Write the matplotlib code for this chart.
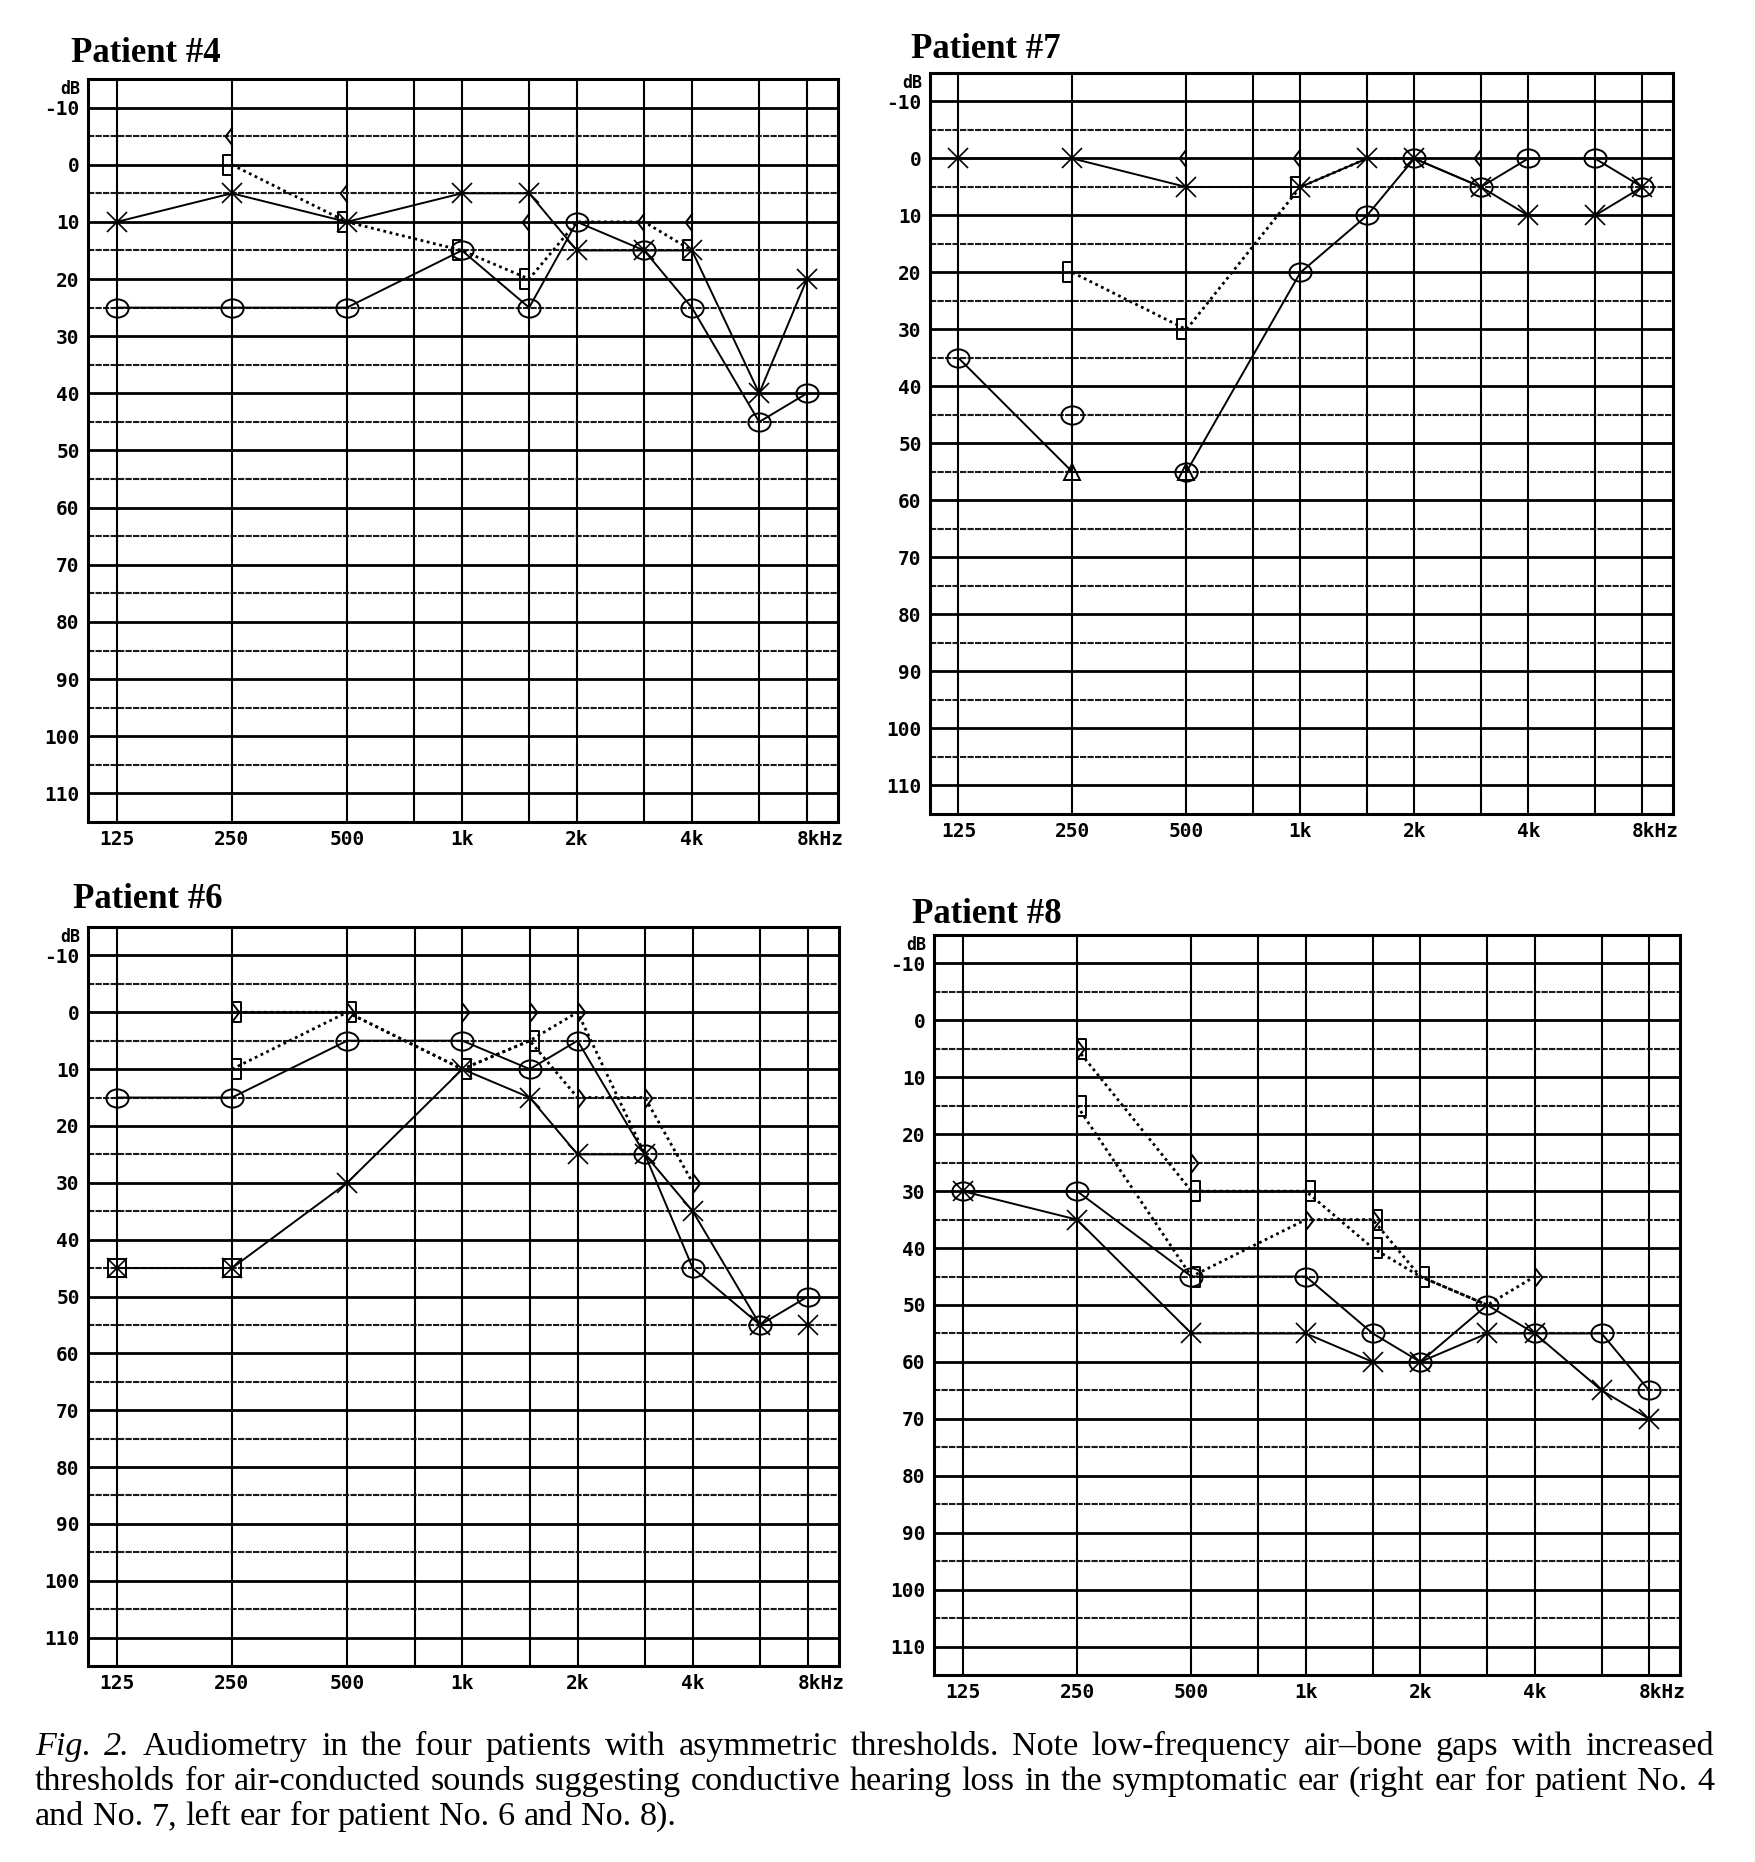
import numpy as np
import matplotlib
matplotlib.use('Agg')
import matplotlib.pyplot as plt
from matplotlib.path import Path
from matplotlib.ticker import NullLocator
from matplotlib.transforms import ScaledTranslation, blended_transform_factory

nan = np.nan

# test frequencies (Hz) and the vertical grid lines of the audiogram form
test_f = [125, 250, 500, 1000, 1500, 2000, 3000, 4000, 6000, 8000]
grid_f = [125, 250, 500, 750, 1000, 1500, 2000, 3000, 4000, 6000, 8000]
label_f = [125, 250, 500, 1000, 2000, 4000]
label_txt = ['125', '250', '500', '1k', '2k', '4k']
db_ticks = list(range(-10, 111, 10))

# Patient 4
p4_right_air = [25, 25, 25, 15, 25, 10, 15, 25, 45, 40]
p4_left_air = [10, 5, 10, 5, 5, 15, 15, 15, 40, 20]
p4_bone = [nan, 0, 10, 15, 20, 10, 10, 15, nan, nan]
p4_bracket_f = [250, 500, 1000, 1500, 4000]
p4_bracket_db = [0, 10, 15, 20, 15]
p4_angle_f = [250, 500, 1500, 3000, 4000]
p4_angle_db = [-5, 5, 10, 10, 10]

# Patient 7
p7_right_air = [35, 55, 55, 20, 10, 0, 5, 0, 0, 5]
p7_right_circles = [35, 45, 55, 20, 10, 0, 5, 0, 0, 5]
p7_triangle_f = [250, 500]
p7_triangle_db = [55, 55]
p7_left_air = [0, 0, 5, 5, 0, 0, 5, 10, 10, 5]
p7_bone = [nan, 20, 30, 5, 0, 0, nan, nan, nan, nan]
p7_bracket_f = [250, 500, 1000]
p7_bracket_db = [20, 30, 5]
p7_angle_f = [500, 1000, 3000]
p7_angle_db = [0, 0, 0]

# Patient 6
p6_right_air = [15, 15, 5, 5, 10, 5, 25, 45, 55, 50]
p6_left_air = [45, 45, 30, 10, 15, 25, 25, 35, 55, 55]
p6_bone_a = [nan, 10, 0, 10, 5, 15, 15, 30, nan, nan]
p6_bone_b = [nan, 0, 0, 10, 5, 0, 25, nan, nan, nan]
p6_bracket_f = [250, 250, 500, 1000, 1500]
p6_bracket_db = [10, 0, 0, 10, 5]
p6_angle_f = [250, 500, 1000, 1500, 2000, 2000, 3000, 4000]
p6_angle_db = [0, 0, 0, 0, 0, 15, 15, 30]
p6_box_f = [125, 250]
p6_box_db = [45, 45]

# Patient 8
p8_right_air = [30, 30, 45, 45, 55, 60, 50, 55, 55, 65]
p8_left_air = [30, 35, 55, 55, 60, 60, 55, 55, 65, 70]
p8_bone_a = [nan, 5, 30, 30, 40, 45, 50, nan, nan, nan]
p8_bone_b = [nan, 15, 45, 35, 35, 45, 50, 45, nan, nan]
p8_bracket_f = [250, 250, 500, 500, 1000, 1500, 1500, 2000]
p8_bracket_db = [5, 15, 30, 45, 30, 35, 40, 45]
p8_angle_f = [250, 500, 1000, 1500, 4000]
p8_angle_db = [5, 25, 35, 35, 45]

caption = [
    'Fig. 2. Audiometry in the four patients with asymmetric thresholds. Note low-frequency air\u2013bone gaps with increased',
    'thresholds for air-conducted sounds suggesting conductive hearing loss in the symptomatic ear (right ear for patient No. 4',
    'and No. 7, left ear for patient No. 6 and No. 8).',
]

# audiogram symbols
circ = Path.unit_circle()
OVAL = Path(circ.vertices * [1.0, 0.82], circ.codes)
LBR = Path([(0, -0.5), (-0.45, -0.5), (-0.45, 0.5), (0, 0.5)])
RBR = Path([(0, -0.5), (0.45, -0.5), (0.45, 0.5), (0, 0.5)])
LANG = Path([(0, 0.5), (-0.38, 0), (0, -0.5)])
RANG = Path([(0, 0.5), (0.38, 0), (0, -0.5)])

W, H = 1756, 1862
fig = plt.figure(figsize=(W / 100, H / 100), dpi=100)
mono = 'DejaVu Sans Mono'


def panel(box, title, title_xy, right_line, right_marks, left_line, dotted, extra):
    l, t, r, b = box
    ax = fig.add_axes([l / W, 1 - b / H, (r - l) / W, (b - t) / H])
    ax.set_xscale('log', base=2)
    ax.set_xlim(125 * 2 ** -0.25, 8000 * 2 ** 0.27)
    ax.set_ylim(115, -15)

    for f in grid_f:
        ax.axvline(f, color='k', lw=1.5, zorder=1)
    for d in range(-10, 115, 5):
        if d % 10 == 0:
            ax.axhline(d, color='k', lw=2.0, zorder=1)
        else:
            ax.axhline(d, color='#1a1a1a', lw=1.5, ls=(0, (3, 0.6)), zorder=1)
    for s in ax.spines.values():
        s.set_linewidth(2.2)

    for vals in dotted:
        ax.plot(test_f, vals, color='k', lw=2.0, ls=(0, (1, 1.3)), zorder=2)
    ax.plot(test_f, right_line, color='k', lw=1.4, zorder=3)
    ax.plot(test_f, left_line, color='k', lw=1.4, zorder=3)
    ax.plot(test_f, right_marks, ls='none', marker=OVAL, ms=16, mfc='none',
            mec='k', mew=1.4, zorder=4)
    ax.plot(test_f, left_line, ls='none', marker='x', ms=15, mec='k', mew=1.2, zorder=4)
    for mk, fs, ds, ms in extra:
        ax.plot(fs, ds, ls='none', marker=mk, ms=ms, mfc='none', mec='k',
                mew=1.4, zorder=4)

    ax.xaxis.set_minor_locator(NullLocator())
    ax.set_xticks(label_f)
    ax.set_xticklabels(label_txt)
    ax.set_yticks(db_ticks)
    ax.set_yticklabels([str(v) for v in db_ticks])
    ax.tick_params(which='both', length=0, labelsize=14, pad=6)
    for lab in ax.get_xticklabels() + ax.get_yticklabels():
        lab.set_fontfamily(mono)
        lab.set_fontweight('bold')

    xt = ax.get_xaxis_transform() + ScaledTranslation(-0.10, -6 / 72, fig.dpi_scale_trans)
    ax.text(8000, 0, '8kHz', transform=xt, ha='left', va='top',
            fontsize=14, family=mono, weight='bold')
    yt = blended_transform_factory(ax.transAxes, ax.transData) + \
        ScaledTranslation(-8 / 100, 0, fig.dpi_scale_trans)
    ax.text(0, -13.2, 'dB', transform=yt, ha='right', va='center',
            fontsize=12, family=mono, weight='bold')

    fig.text(title_xy[0] / W, 1 - title_xy[1] / H, title, family='Liberation Serif',
             weight='bold', fontsize=25, ha='left', va='baseline')
    return ax


panel((88, 79, 838, 822), 'Patient #4', (71, 62),
      p4_right_air, p4_right_air, p4_left_air, [p4_bone],
      [(LBR, p4_bracket_f, p4_bracket_db, 15), (LANG, p4_angle_f, p4_angle_db, 13)])

panel((930, 73, 1673, 814), 'Patient #7', (911, 58),
      p7_right_air, p7_right_circles, p7_left_air, [p7_bone],
      [(LBR, p7_bracket_f, p7_bracket_db, 15), (LANG, p7_angle_f, p7_angle_db, 13),
       ('^', p7_triangle_f, p7_triangle_db, 12)])

panel((88, 927, 839, 1666), 'Patient #6', (73, 908),
      p6_right_air, p6_right_air, p6_left_air, [p6_bone_a, p6_bone_b],
      [(RBR, p6_bracket_f, p6_bracket_db, 15), (RANG, p6_angle_f, p6_angle_db, 13),
       ('s', p6_box_f, p6_box_db, 13)])

panel((934, 935, 1680, 1675), 'Patient #8', (912, 923),
      p8_right_air, p8_right_air, p8_left_air, [p8_bone_a, p8_bone_b],
      [(RBR, p8_bracket_f, p8_bracket_db, 15), (RANG, p8_angle_f, p8_angle_db, 13)])

# justified caption, word by word; size fitted so line 2 is almost natural width
renderer = fig.canvas.get_renderer()
x0, x1 = 35, 1714
probe = fig.text(0, 0, caption[1], family='Liberation Serif', fontsize=20)
cap_size = 20 * (x1 - x0) / probe.get_window_extent(renderer).width * 0.99
probe.remove()

base_y = [1755, 1790, 1825]
for i, line in enumerate(caption):
    words = line.split(' ')
    texts = []
    for j, w in enumerate(words):
        style = 'italic' if (i == 0 and j < 2) else 'normal'
        texts.append(fig.text(0, 1 - base_y[i] / H, w, family='Liberation Serif',
                              fontsize=cap_size, style=style, va='baseline', ha='left'))
    widths = [tx.get_window_extent(renderer).width for tx in texts]
    if i < len(caption) - 1:
        gap = (x1 - x0 - sum(widths)) / (len(words) - 1)
    else:
        gap = cap_size * 100 / 72 * 0.25
    x = x0
    for tx, wd in zip(texts, widths):
        tx.set_x(x / W)
        x += wd + gap

fig.savefig('out.png', dpi=100, facecolor='white')
